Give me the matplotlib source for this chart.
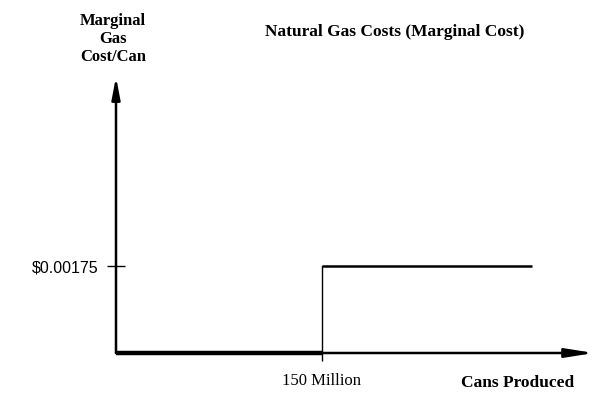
"""Natural gas marginal cost step chart."""

import matplotlib.pyplot as plt

# --- data ---
cans_millions = [0, 150, 150, 303]
marginal_cost = [0, 0, 0.00175, 0.00175]
y_tick_values = [0.00175]
y_tick_labels = [r"\$0.00175"]
x_tick_values = [150]
x_tick_labels = ["150 Million"]

SERIF = ["Liberation Serif", "DejaVu Serif"]
SANS = ["Liberation Sans", "DejaVu Sans"]

fig = plt.figure(figsize=(6.08, 4.02), dpi=100)
ax = fig.add_axes([0, 0, 1, 1])

# map pixel layout: x=0 at px 116, 150 at px 322; y=0 at px 354, 0.00175 at px 267
px_x = 150 / 206
px_y = 0.00175 / 87
ax.set_xlim(-116 * px_x, (608 - 116) * px_x)
ax.set_ylim(-(402 - 354) * px_y, 354 * px_y)

for s in ax.spines.values():
    s.set_visible(False)
ax.spines["left"].set_position(("data", 0))
ax.spines["bottom"].set_position(("data", 0))

# thick zero-cost segment, then the step up
ax.plot(cans_millions[:2], marginal_cost[:2], color="black", lw=3.2,
        solid_capstyle="butt", zorder=3)
ax.plot(cans_millions[1:3], marginal_cost[1:3], color="black", lw=1.0, zorder=3)
ax.plot(cans_millions[2:], marginal_cost[2:], color="black", lw=1.8,
        solid_capstyle="butt", zorder=3)

# axes with arrow heads
ax.annotate("", xy=(0, 276 * px_y), xytext=(0, 0),
            arrowprops=dict(arrowstyle="-|>,head_length=1.3,head_width=0.25",
                            color="black", lw=1.8, shrinkA=0, shrinkB=0))
ax.annotate("", xy=(478 * px_x, 0), xytext=(0, 0),
            arrowprops=dict(arrowstyle="-|>,head_length=1.7,head_width=0.27",
                            color="black", lw=1.8, shrinkA=0, shrinkB=0))

ax.set_yticks(y_tick_values)
ax.set_yticklabels(y_tick_labels, fontfamily=SANS, fontsize=11.5)
ax.tick_params(axis="y", direction="inout", length=13, width=1.0, pad=6)
ax.set_xticks(x_tick_values)
ax.set_xticklabels(x_tick_labels, fontfamily=SERIF, fontsize=12)
ax.tick_params(axis="x", direction="out", length=6, width=1.0, pad=8)

ax.text(113, 402 - 39, "Marginal\nGas\nCost/Can", transform=None, ha="center",
        va="center", fontfamily=SERIF, fontweight="bold", fontsize=12,
        linespacing=1.15)
fig.text(395 / 608, 1 - 32 / 402, "Natural Gas Costs (Marginal Cost)",
         ha="center", va="center", fontfamily=SERIF, fontweight="bold",
         fontsize=12.5)
fig.text(518 / 608, 1 - 383 / 402, "Cans Produced", ha="center", va="center",
         fontfamily=SERIF, fontweight="bold", fontsize=12.5)

fig.savefig("out.png", dpi=100)
